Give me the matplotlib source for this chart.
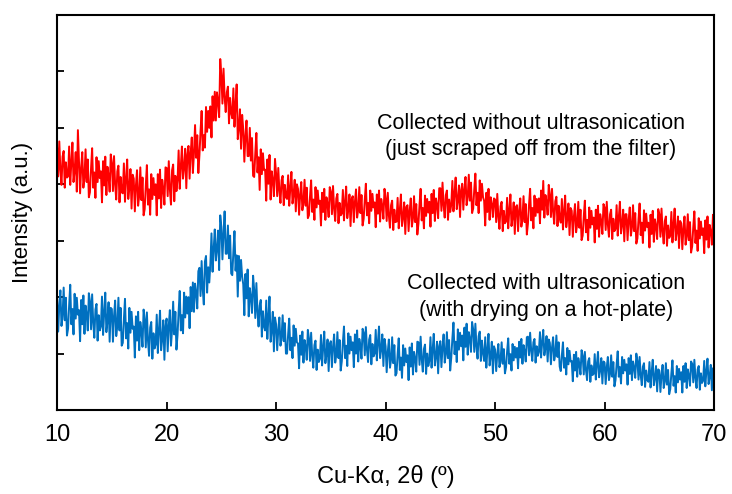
import numpy as np
import matplotlib
matplotlib.use("Agg")
import matplotlib.pyplot as plt

plt.rcParams['font.family'] = ['Liberation Sans', 'DejaVu Sans']

# 2-theta scan grid, 0.1 degree step
two_theta = np.linspace(10, 70, 601)

red_without_ultrasonication = [
    464, 414, 476, 426, 399, 449, 459, 394, 439, 412,
    414, 467, 399, 439, 474, 404, 424, 457, 387, 496,
    442, 384, 430, 457, 394, 412, 462, 404, 444, 377,
    386, 428, 464, 394, 421, 376, 448, 404, 441, 411,
    423, 368, 441, 398, 449, 381, 431, 415, 387, 453,
    438, 388, 450, 400, 373, 423, 433, 368, 413, 386,
    384, 437, 369, 409, 444, 374, 394, 427, 357, 417,
    410, 352, 398, 425, 362, 380, 430, 372, 412, 345,
    356, 398, 434, 364, 391, 346, 418, 374, 411, 381,
    400, 345, 418, 375, 426, 358, 408, 392, 364, 430,
    429, 379, 441, 391, 364, 425, 435, 370, 415, 388,
    407, 460, 392, 432, 467, 410, 430, 463, 393, 453,
    468, 410, 456, 483, 420, 455, 505, 447, 487, 420,
    452, 494, 530, 460, 487, 465, 537, 493, 530, 500,
    538, 483, 556, 513, 564, 513, 563, 547, 519, 622,
    593, 543, 605, 555, 528, 563, 573, 508, 553, 526,
    517, 570, 502, 542, 577, 480, 500, 533, 463, 523,
    498, 440, 486, 513, 450, 450, 500, 442, 482, 415,
    413, 455, 491, 421, 448, 390, 462, 418, 455, 425,
    426, 371, 444, 401, 452, 373, 423, 407, 379, 445,
    419, 379, 429, 389, 367, 407, 415, 363, 399, 377,
    374, 416, 362, 394, 422, 366, 382, 408, 352, 400,
    392, 346, 382, 404, 354, 368, 408, 362, 394, 340,
    345, 379, 407, 351, 373, 337, 395, 359, 389, 365,
    371, 327, 385, 351, 392, 337, 377, 365, 342, 395,
    387, 347, 397, 357, 335, 375, 383, 331, 367, 345,
    348, 390, 336, 368, 396, 340, 356, 382, 326, 374,
    379, 333, 369, 391, 341, 355, 395, 349, 381, 327,
    339, 373, 401, 345, 367, 331, 389, 353, 383, 359,
    368, 324, 382, 348, 389, 334, 374, 362, 339, 392,
    375, 335, 385, 345, 323, 363, 371, 319, 355, 333,
    334, 376, 322, 354, 382, 326, 342, 368, 312, 360,
    363, 317, 353, 375, 325, 339, 379, 333, 365, 311,
    330, 364, 392, 336, 358, 322, 380, 344, 374, 350,
    369, 325, 383, 349, 390, 335, 375, 363, 340, 393,
    393, 353, 403, 363, 341, 381, 389, 337, 373, 351,
    364, 406, 352, 384, 412, 356, 372, 398, 342, 390,
    401, 355, 391, 413, 363, 377, 417, 371, 403, 349,
    357, 391, 419, 363, 385, 349, 407, 371, 401, 377,
    371, 327, 385, 351, 392, 337, 377, 365, 342, 375,
    373, 333, 383, 343, 321, 361, 369, 317, 353, 331,
    334, 376, 322, 354, 382, 326, 342, 368, 312, 360,
    363, 317, 353, 375, 325, 339, 379, 333, 365, 311,
    330, 364, 392, 336, 358, 322, 380, 344, 374, 350,
    375, 331, 389, 355, 406, 341, 381, 369, 346, 399,
    382, 342, 392, 352, 330, 370, 378, 326, 362, 340,
    332, 374, 320, 352, 380, 324, 340, 366, 310, 358,
    353, 307, 343, 365, 315, 329, 369, 323, 355, 301,
    309, 343, 371, 315, 337, 301, 359, 323, 353, 329,
    341, 297, 355, 321, 362, 307, 347, 335, 312, 365,
    359, 319, 369, 329, 307, 347, 355, 303, 339, 317,
    321, 363, 309, 341, 369, 313, 329, 355, 299, 347,
    347, 301, 337, 359, 309, 323, 363, 317, 349, 295,
    304, 338, 366, 310, 332, 296, 354, 318, 348, 324,
    332, 288, 346, 312, 353, 298, 338, 326, 303, 356,
    347, 307, 357, 317, 295, 335, 343, 291, 327, 305,
    309, 351, 297, 329, 357, 301, 317, 343, 287, 335,
    331, 285, 321, 343, 293, 307, 347, 301, 333, 279,
    290, 324, 352, 296, 318, 282, 340, 304, 334, 310,
    322, 278, 336, 302, 343, 288, 328, 316, 293, 346,
    318,
]

blue_with_ultrasonication = [
    197, 139, 185, 212, 149, 167, 217, 159, 199, 132,
    144, 186, 222, 152, 179, 134, 206, 162, 199, 169,
    177, 122, 195, 152, 203, 135, 185, 169, 141, 207,
    193, 143, 205, 155, 128, 178, 188, 123, 168, 141,
    148, 201, 133, 173, 208, 138, 158, 191, 121, 181,
    179, 121, 167, 194, 131, 149, 199, 141, 181, 114,
    119, 161, 197, 127, 154, 109, 181, 137, 174, 144,
    148, 93, 166, 123, 174, 106, 156, 140, 112, 178,
    161, 111, 173, 123, 96, 146, 156, 91, 136, 109,
    116, 169, 101, 141, 176, 106, 126, 159, 89, 149,
    162, 104, 150, 177, 114, 142, 192, 134, 174, 107,
    133, 175, 211, 141, 168, 136, 208, 164, 201, 171,
    200, 145, 218, 175, 226, 174, 224, 208, 180, 246,
    252, 202, 264, 214, 187, 263, 273, 208, 253, 226,
    260, 313, 245, 285, 320, 265, 285, 318, 248, 345,
    325, 267, 313, 352, 277, 277, 327, 269, 309, 242,
    239, 281, 317, 247, 274, 201, 273, 229, 266, 236,
    223, 168, 241, 198, 249, 166, 216, 200, 172, 238,
    213, 163, 225, 175, 148, 185, 195, 130, 175, 148,
    141, 194, 126, 166, 201, 121, 141, 174, 104, 164,
    152, 106, 142, 164, 114, 128, 168, 122, 154, 100,
    100, 134, 162, 106, 128, 92, 150, 114, 144, 120,
    118, 74, 132, 98, 139, 84, 124, 112, 89, 142,
    127, 87, 137, 97, 75, 115, 123, 71, 107, 85,
    91, 133, 79, 111, 139, 83, 99, 125, 69, 117,
    122, 76, 112, 134, 84, 98, 138, 92, 124, 70,
    86, 120, 148, 92, 114, 78, 136, 100, 130, 106,
    120, 76, 134, 100, 141, 86, 126, 114, 91, 144,
    137, 97, 147, 107, 85, 125, 133, 81, 117, 95,
    100, 142, 88, 120, 148, 92, 108, 134, 78, 126,
    113, 67, 103, 125, 75, 89, 129, 83, 115, 61,
    65, 99, 127, 71, 93, 57, 115, 79, 109, 85,
    97, 53, 111, 77, 118, 63, 103, 91, 68, 121,
    120, 80, 130, 90, 68, 108, 116, 64, 100, 78,
    87, 129, 75, 107, 135, 79, 95, 121, 65, 113,
    122, 76, 112, 134, 84, 98, 138, 92, 124, 70,
    93, 127, 155, 99, 121, 85, 143, 107, 137, 113,
    132, 88, 146, 112, 153, 98, 138, 126, 103, 156,
    143, 103, 153, 113, 91, 131, 139, 87, 123, 101,
    87, 129, 75, 107, 135, 79, 95, 121, 65, 113,
    107, 69, 99, 117, 76, 87, 120, 82, 108, 65,
    76, 104, 127, 82, 99, 70, 117, 88, 112, 93,
    110, 74, 121, 93, 126, 82, 115, 104, 86, 129,
    130, 97, 137, 105, 87, 120, 126, 84, 113, 96,
    103, 138, 93, 120, 142, 97, 110, 131, 86, 125,
    119, 81, 111, 129, 88, 99, 132, 94, 120, 77,
    69, 97, 120, 75, 92, 63, 110, 81, 105, 86,
    87, 51, 98, 70, 103, 59, 92, 81, 63, 106,
    96, 63, 103, 71, 53, 86, 92, 50, 79, 62,
    64, 99, 54, 81, 103, 58, 71, 92, 47, 86,
    84, 46, 76, 94, 53, 64, 97, 59, 85, 42,
    53, 81, 104, 59, 76, 47, 94, 65, 89, 70,
    81, 45, 92, 64, 97, 53, 86, 75, 57, 100,
    87, 54, 94, 62, 44, 77, 83, 41, 70, 53,
    50, 85, 40, 67, 89, 44, 57, 78, 33, 72,
    70, 32, 62, 80, 39, 50, 83, 45, 71, 28,
    37, 65, 88, 43, 60, 31, 78, 49, 73, 54,
    67, 31, 78, 50, 83, 39, 72, 61, 43, 86,
    82, 49, 89, 57, 39, 72, 78, 36, 65, 48,
    52, 87, 42, 69, 91, 46, 59, 80, 35, 74,
    60,
]

x_ticks = [10, 20, 30, 40, 50, 60, 70]
y_ticks = [100, 200, 300, 400, 500, 600]

label_red = "Collected without ultrasonication\n(just scraped off from the filter)"
label_blue = "Collected with ultrasonication\n(with drying on a hot-plate)"

fig = plt.figure(figsize=(7.32, 4.94), dpi=100)
ax = fig.add_axes([0.078, 0.170, 0.8975, 0.7996])

ax.plot(two_theta, red_without_ultrasonication, color='#FF0000', lw=1.4)
ax.plot(two_theta, blue_with_ultrasonication, color='#0070C0', lw=1.4)

ax.set_xlim(10, 70)
ax.set_ylim(0, 700)
ax.set_xticks(x_ticks)
ax.set_yticks(y_ticks)
ax.set_yticklabels([])
ax.tick_params(axis='x', direction='in', length=6, width=1.3, labelsize=17, pad=10)
ax.tick_params(axis='y', direction='in', length=5, width=1.3)
for s in ax.spines.values():
    s.set_linewidth(1.5)
    s.set_color('black')

ax.set_xlabel("Cu-K\u03b1, 2\u03b8 (\u00ba)", fontsize=17, labelpad=14)
ax.set_ylabel("Intensity (a.u.)", fontsize=16, labelpad=14)

ax.text(0.7215, 0.692, label_red, transform=ax.transAxes, ha='center', va='center',
        fontsize=15.5, linespacing=1.35)
ax.text(0.745, 0.286, label_blue, transform=ax.transAxes, ha='center', va='center',
        fontsize=15.5, linespacing=1.35)

fig.savefig("out.png", dpi=100)
